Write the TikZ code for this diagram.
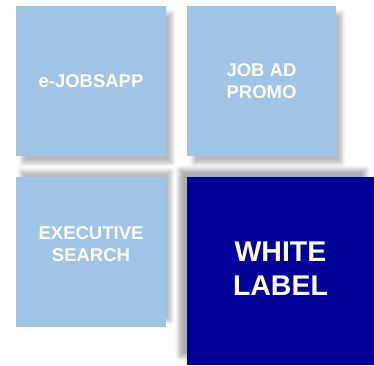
\documentclass[tikz,border=0pt]{standalone}
\usepackage{fontspec}
\setmainfont{Liberation Sans}
\usetikzlibrary{shadows.blur}
\definecolor{lightbox}{RGB}{160,196,230}
\definecolor{darkbox}{RGB}{0,0,153}
\begin{document}
\begin{tikzpicture}[x=1pt,y=-1pt,
  tile/.style={rectangle, draw=none, fill=lightbox, inner sep=0pt, outer sep=0pt},
  darktile/.style={rectangle, draw=none, fill=darkbox, inner sep=0pt, outer sep=0pt},
  shdown/.style={blur shadow={shadow xshift=6pt, shadow yshift=-7pt, shadow blur radius=4pt, shadow opacity=28}},
  shup/.style={blur shadow={shadow xshift=5pt, shadow yshift=6pt, shadow blur radius=4pt, shadow opacity=28}},
  shupleft/.style={blur shadow={shadow xshift=-8pt, shadow yshift=8pt, shadow blur radius=4pt, shadow opacity=32}},
  small/.style={text=white, align=center, font=\bfseries\fontsize{18.5}{22}\selectfont},
  big/.style={text=white, align=center, font=\bfseries\fontsize{28.5}{34}\selectfont}]
\useasboundingbox (0,0) rectangle (374,365);
\node[tile, shdown, minimum width=150pt, minimum height=150pt] (tl) at (91,81) {};
\node[tile, shdown, minimum width=149pt, minimum height=150pt] (tr) at (261.5,81) {};
\node[tile, shup, minimum width=150pt, minimum height=150pt] (bl) at (91,252) {};
\node[darktile, shupleft, minimum width=187pt, minimum height=188pt] (br) at (280.5,271) {};
\node[small] (tltext) at (tl.center) {e-JOBSAPP};
\node[small] (trtext) at (tr.center) {JOB AD\\PROMO};
\node[small] (bltext) at ([yshift=8pt]bl.center) {EXECUTIVE\\SEARCH};
\node[big] (brtext) at ([yshift=2pt]br.center) {WHITE\\LABEL};
\end{tikzpicture}
\end{document}
